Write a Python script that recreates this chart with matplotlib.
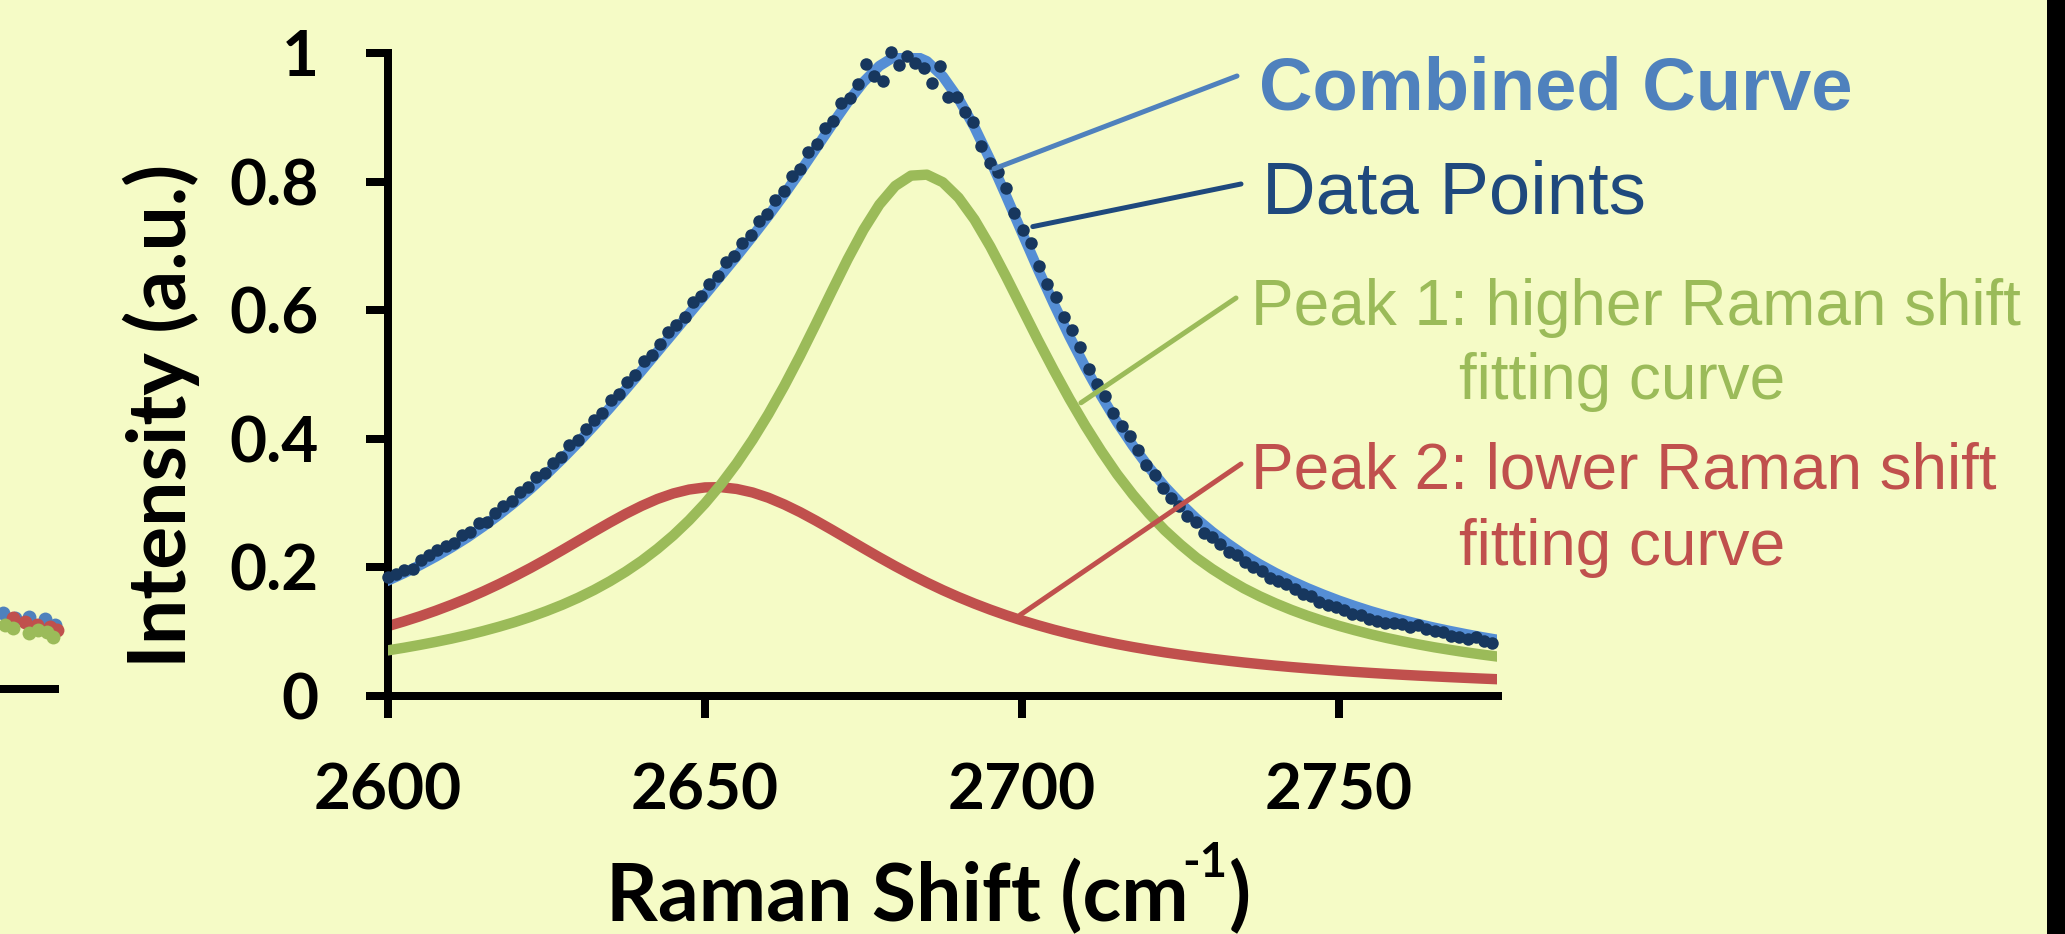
import numpy as np
import matplotlib
matplotlib.use("Agg")
import matplotlib.pyplot as plt
from matplotlib.patches import Rectangle

plt.rcParams['font.family'] = ['Lato', 'DejaVu Sans']

# curvas de ajuste
curve_x = [2600.0, 2602.5, 2605.0, 2607.5, 2610.0, 2612.5, 2615.0, 2617.5, 2620.0, 2622.5,
           2625.0, 2627.5, 2630.0, 2632.5, 2635.0, 2637.5, 2640.0, 2642.5, 2645.0, 2647.5,
           2650.0, 2652.5, 2655.0, 2657.5, 2660.0, 2662.5, 2665.0, 2667.5, 2670.0, 2672.5,
           2675.0, 2677.5, 2680.0, 2682.5, 2685.0, 2687.5, 2690.0, 2692.5, 2695.0, 2697.5,
           2700.0, 2702.5, 2705.0, 2707.5, 2710.0, 2712.5, 2715.0, 2717.5, 2720.0, 2722.5,
           2725.0, 2727.5, 2730.0, 2732.5, 2735.0, 2737.5, 2740.0, 2742.5, 2745.0, 2747.5,
           2750.0, 2752.5, 2755.0, 2757.5, 2760.0, 2762.5, 2765.0, 2767.5, 2770.0, 2772.5,
           2775.0]
peak1 = [0.0710, 0.0750, 0.0794, 0.0841, 0.0892, 0.0948, 0.1010, 0.1077, 0.1150, 0.1231,
         0.1321, 0.1419, 0.1528, 0.1649, 0.1784, 0.1934, 0.2101, 0.2289, 0.2498, 0.2733,
         0.2996, 0.3290, 0.3618, 0.3983, 0.4384, 0.4822, 0.5293, 0.5789, 0.6295, 0.6792,
         0.7251, 0.7642, 0.7932, 0.8093, 0.8108, 0.7990, 0.7750, 0.7410, 0.6990, 0.6520,
         0.6030, 0.5540, 0.5070, 0.4620, 0.4200, 0.3810, 0.3450, 0.3130, 0.2840, 0.2580,
         0.2355, 0.2150, 0.1975, 0.1818, 0.1675, 0.1551, 0.1440, 0.1339, 0.1248, 0.1166,
         0.1091, 0.1023, 0.0960, 0.0903, 0.0851, 0.0803, 0.0758, 0.0718, 0.0680, 0.0645,
         0.0613]
peak2 = [0.1087, 0.1160, 0.1239, 0.1325, 0.1418, 0.1517, 0.1625, 0.1740, 0.1863, 0.1992,
         0.2128, 0.2269, 0.2413, 0.2557, 0.2698, 0.2833, 0.2956, 0.3064, 0.3150, 0.3211,
         0.3244, 0.3248, 0.3220, 0.3165, 0.3083, 0.2979, 0.2859, 0.2726, 0.2586, 0.2442,
         0.2298, 0.2156, 0.2019, 0.1888, 0.1764, 0.1647, 0.1538, 0.1437, 0.1343, 0.1256,
         0.1175, 0.1101, 0.1032, 0.0969, 0.0911, 0.0857, 0.0807, 0.0761, 0.0719, 0.0679,
         0.0643, 0.0609, 0.0578, 0.0549, 0.0521, 0.0496, 0.0472, 0.0450, 0.0430, 0.0411,
         0.0392, 0.0375, 0.0359, 0.0344, 0.0330, 0.0317, 0.0305, 0.0293, 0.0282, 0.0271,
         0.0261]
combined = [0.1797, 0.1910, 0.2033, 0.2166, 0.2310, 0.2465, 0.2635, 0.2817, 0.3013, 0.3223,
            0.3449, 0.3688, 0.3941, 0.4206, 0.4482, 0.4767, 0.5057, 0.5353, 0.5648, 0.5944,
            0.6240, 0.6538, 0.6838, 0.7148, 0.7467, 0.7801, 0.8152, 0.8515, 0.8881, 0.9234,
            0.9549, 0.9798, 0.9951, 0.9981, 0.9872, 0.9637, 0.9288, 0.8847, 0.8333, 0.7776,
            0.7205, 0.6641, 0.6102, 0.5589, 0.5111, 0.4667, 0.4257, 0.3891, 0.3559, 0.3259,
            0.2998, 0.2759, 0.2553, 0.2367, 0.2196, 0.2047, 0.1912, 0.1789, 0.1678, 0.1577,
            0.1483, 0.1398, 0.1319, 0.1247, 0.1181, 0.1120, 0.1063, 0.1011, 0.0962, 0.0916,
            0.0874]

# puntos medidos
data_x = [2600.0, 2601.3, 2602.6, 2603.9, 2605.2, 2606.5, 2607.8, 2609.1, 2610.4, 2611.7,
          2613.0, 2614.3, 2615.6, 2616.9, 2618.2, 2619.5, 2620.8, 2622.1, 2623.4, 2624.7,
          2626.0, 2627.3, 2628.6, 2629.9, 2631.2, 2632.5, 2633.8, 2635.1, 2636.4, 2637.7,
          2639.0, 2640.3, 2641.6, 2642.9, 2644.2, 2645.5, 2646.8, 2648.1, 2649.4, 2650.7,
          2652.0, 2653.3, 2654.6, 2655.9, 2657.2, 2658.5, 2659.8, 2661.1, 2662.4, 2663.7,
          2665.0, 2666.3, 2667.6, 2668.9, 2670.2, 2671.5, 2672.8, 2674.1, 2675.4, 2676.7,
          2678.0, 2679.3, 2680.6, 2681.9, 2683.2, 2684.5, 2685.8, 2687.1, 2688.4, 2689.7,
          2691.0, 2692.3, 2693.6, 2694.9, 2696.2, 2697.5, 2698.8, 2700.1, 2701.4, 2702.7,
          2704.0, 2705.3, 2706.6, 2707.9, 2709.2, 2710.5, 2711.8, 2713.1, 2714.4, 2715.7,
          2717.0, 2718.3, 2719.6, 2720.9, 2722.2, 2723.5, 2724.8, 2726.1, 2727.4, 2728.7,
          2730.0, 2731.3, 2732.6, 2733.9, 2735.2, 2736.5, 2737.8, 2739.1, 2740.4, 2741.7,
          2743.0, 2744.3, 2745.6, 2746.9, 2748.2, 2749.5, 2750.8, 2752.1, 2753.4, 2754.7,
          2756.0, 2757.3, 2758.6, 2759.9, 2761.2, 2762.5, 2763.8, 2765.1, 2766.4, 2767.7,
          2769.0, 2770.3, 2771.6, 2772.9, 2774.2]
data_y = [0.185, 0.190, 0.196, 0.197, 0.212, 0.219, 0.227, 0.234, 0.238, 0.250,
          0.255, 0.269, 0.270, 0.284, 0.295, 0.303, 0.318, 0.325, 0.340, 0.347,
          0.363, 0.372, 0.390, 0.398, 0.416, 0.429, 0.440, 0.460, 0.470, 0.489,
          0.500, 0.521, 0.531, 0.547, 0.566, 0.577, 0.590, 0.613, 0.622, 0.641,
          0.653, 0.675, 0.684, 0.704, 0.717, 0.738, 0.750, 0.772, 0.785, 0.808,
          0.820, 0.846, 0.858, 0.883, 0.895, 0.922, 0.930, 0.952, 0.983, 0.965,
          0.956, 1.002, 0.981, 0.995, 0.985, 0.976, 0.954, 0.980, 0.931, 0.932,
          0.908, 0.892, 0.855, 0.829, 0.815, 0.790, 0.751, 0.724, 0.705, 0.669,
          0.640, 0.621, 0.590, 0.569, 0.542, 0.509, 0.486, 0.466, 0.440, 0.420,
          0.405, 0.382, 0.360, 0.344, 0.324, 0.308, 0.296, 0.280, 0.270, 0.254,
          0.247, 0.237, 0.224, 0.219, 0.209, 0.201, 0.195, 0.183, 0.179, 0.174,
          0.166, 0.158, 0.155, 0.146, 0.141, 0.139, 0.133, 0.128, 0.126, 0.119,
          0.116, 0.114, 0.113, 0.112, 0.108, 0.110, 0.104, 0.101, 0.100, 0.094,
          0.092, 0.088, 0.091, 0.086, 0.082]

x_ticks = [2600, 2650, 2700, 2750]
y_ticks = [0, 0.2, 0.4, 0.6, 0.8, 1]
y_tick_labels = ['0', '0.2', '0.4', '0.6', '0.8', '1']

# trozo del grafico vecino que asoma por la izquierda
left_blue_x = [0.47, 2.37, 4.57, 7.10, 8.68]
left_blue_y = [0.118, 0.110, 0.112, 0.109, 0.100]
left_red_x = [2.05, 3.94, 5.84, 7.89, 8.99]
left_red_y = [0.110, 0.104, 0.100, 0.096, 0.092]
left_green_x = [0.79, 2.05, 4.57, 5.99, 7.41, 8.36]
left_green_y = [0.100, 0.095, 0.087, 0.092, 0.089, 0.081]

fondo = '#F5FBC6'
azul = '#558ED5'
azul_txt = '#4F81BD'
azul_osc = '#1F497D'
puntos = '#17375E'
verde = '#9BBB59'
rojo = '#C0504D'

W, H = 2065, 934
fig = plt.figure(figsize=(W / 100, H / 100), dpi=100, facecolor=fondo)

ax = fig.add_axes([388 / W, (H - 696) / H, 1109.5 / W, 643 / H])
ax.set_facecolor(fondo)
ax.plot(curve_x, peak2, color=rojo, lw=7.5, zorder=2)
ax.plot(curve_x, peak1, color=verde, lw=7.5, zorder=3)
ax.plot(curve_x, combined, color=azul, lw=7.5, zorder=4)
ax.plot(data_x, data_y, 'o', color=puntos, ms=9, mec='none', zorder=6, clip_on=False)

ax.set_xlim(2600, 2775)
ax.set_ylim(0, 1)
ax.set_xticks(x_ticks)
ax.set_xticklabels([str(t) for t in x_ticks])
ax.set_yticks(y_ticks)
ax.set_yticklabels(y_tick_labels)
for s in ['top', 'right']:
    ax.spines[s].set_visible(False)
for s in ['left', 'bottom']:
    ax.spines[s].set_linewidth(5.76)
ax.tick_params(axis='both', direction='out', length=15.8, width=5.76, labelsize=46)
ax.tick_params(axis='x', pad=32)
ax.tick_params(axis='y', pad=34)
for lab in ax.get_xticklabels() + ax.get_yticklabels():
    lab.set_fontweight('bold')

# etiqueta eje y
fig.text(161 / W, 1 - 416 / H, 'Intensity (a.u.)', rotation=90, ha='center', va='center',
         fontsize=58, fontweight='bold')

# etiqueta eje x, con el superindice hecho a mano
rend = fig.canvas.get_renderer()
yb = (H - 921) / H
t1 = fig.text(606 / W, yb, 'Raman Shift (cm', ha='left', va='baseline',
              fontsize=58, fontweight='bold')
bb = t1.get_window_extent(renderer=rend)
t2 = fig.text((bb.x1 - 6) / W, yb + 44 / H, '-1', ha='left', va='baseline',
              fontsize=34, fontweight='bold')
bb2 = t2.get_window_extent(renderer=rend)
fig.text((bb2.x1 + 1) / W, yb, ')', ha='left', va='baseline', fontsize=58, fontweight='bold')

# leyendas con lineas
arial = ['Liberation Sans', 'DejaVu Sans']
fig.text(1259 / W, 1 - 109 / H, 'Combined Curve', fontsize=53.5, fontweight='bold',
         color=azul_txt, family=arial, va='baseline')
fig.text(1262 / W, 1 - 214 / H, 'Data Points', fontsize=53.5, color=azul_osc,
         family=arial, va='baseline')
fig.text(1251 / W, 1 - 325 / H, 'Peak 1: higher Raman shift', fontsize=46, color=verde,
         family=arial, va='baseline')
fig.text(1622 / W, 1 - 399 / H, 'fitting curve', fontsize=46, color=verde,
         family=arial, va='baseline', ha='center')
fig.text(1251 / W, 1 - 489 / H, 'Peak 2: lower Raman shift', fontsize=46, color=rojo,
         family=arial, va='baseline')
fig.text(1622 / W, 1 - 565 / H, 'fitting curve', fontsize=46, color=rojo,
         family=arial, va='baseline', ha='center')

def guia(xy, txt_px, color, lw=3.6):
    ax.annotate('', xy=xy, xycoords='data',
                xytext=(txt_px[0] / W, 1 - txt_px[1] / H), textcoords='figure fraction',
                arrowprops=dict(arrowstyle='-', color=color, lw=lw, shrinkA=0, shrinkB=0),
                annotation_clip=False, zorder=7)

guia((2695.6, np.interp(2695.6, curve_x, combined)), (1237, 76), azul_txt)
guia((2701.7, 0.73), (1241, 184), azul_osc)
guia((2709.3, 0.456), (1236, 298), verde)
guia((2699.7, 0.126), (1241, 464), rojo)

# grafico vecino recortado a la izquierda
axl = fig.add_axes([0, (H - 689) / H, 55 / W, 100 / H])
axl.set_facecolor('none')
axl.plot(left_blue_x, left_blue_y, 'o', color=azul_txt, ms=10, mec='none', clip_on=False)
axl.plot(left_red_x, left_red_y, 'o', color=rojo, ms=10, mec='none', clip_on=False)
axl.plot(left_green_x, left_green_y, 'o', color=verde, ms=10, mec='none', clip_on=False)
axl.set_xlim(0, 55 / 6.34)
axl.set_ylim(0, 100 / 643)
for s in ['top', 'right', 'left']:
    axl.spines[s].set_visible(False)
axl.spines['bottom'].set_linewidth(5.76)
axl.set_xticks([])
axl.set_yticks([])

# franja negra a la derecha
fig.patches.append(Rectangle((2047 / W, 0), 18 / W, 1, transform=fig.transFigure,
                             facecolor='black', edgecolor='none'))

fig.savefig('out.png', dpi=100, facecolor=fondo)
